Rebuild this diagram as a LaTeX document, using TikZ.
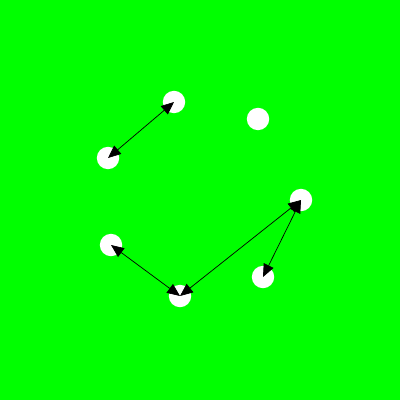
\documentclass[tikz,border=0pt]{standalone}
\usetikzlibrary{arrows.meta}
\begin{document}
\begin{tikzpicture}[x=0.025cm, y=-0.025cm, line width=0.5pt, main node/.style={circle,fill=white,minimum size=0.56cm,inner sep=0pt}]%
\fill[green] (0,0) rectangle (400,400);
\begin{scope}
\node[main node] (v1) at (174,102) {};%1
\node[main node] (v2) at (258,119) {};%2
\node[main node] (v3) at (108,158) {};%3
\node[main node] (v4) at (301,200) {};%4
\node[main node] (v5) at (111,245) {};%5
\node[main node] (v6) at (263,277) {};%6
\node[main node] (v7) at (180,296) {};%7
\end{scope}
\begin{scope}[every path/.style={draw=black,{Triangle[length=0.32cm,width=0.27cm]}-{Triangle[length=0.32cm,width=0.27cm]}}]
\draw (v1.center) -- (v3.center);
\draw (v5.center) -- (v7.center);
\draw (v7.center) -- (v4.center);
\draw (v4.center) -- (v6.center);
\end{scope}
\end{tikzpicture}
\end{document}
